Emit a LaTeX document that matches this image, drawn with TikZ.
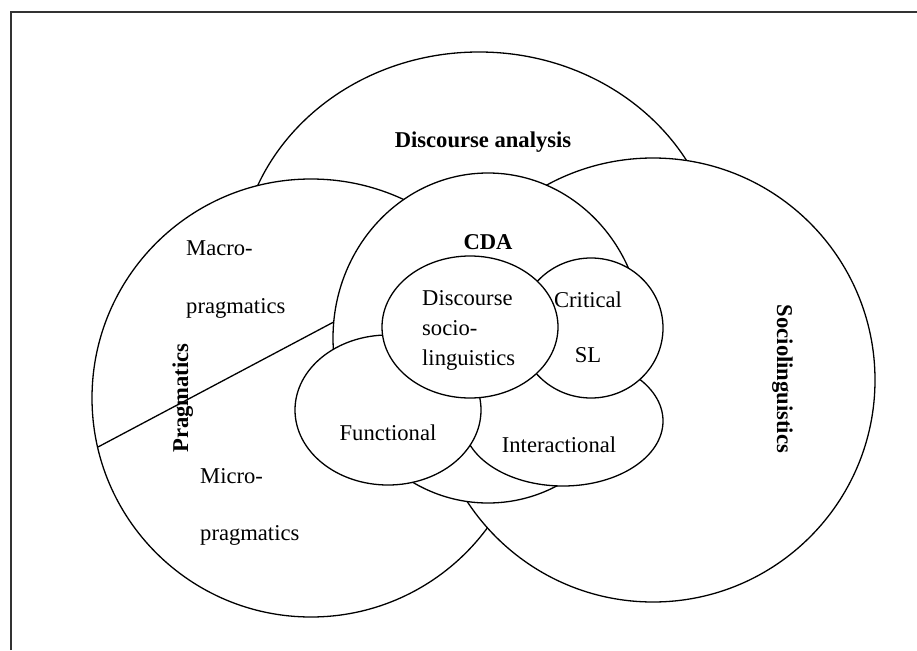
\documentclass[tikz,border=0pt]{standalone}
\usepackage{fontspec}
\setmainfont{Liberation Serif}
\begin{document}
\begin{tikzpicture}[x=1pt,y=-1pt,
  region/.style={draw=black, line width=1.3pt, fill=white},
  divider/.style={draw=black, line width=1.3pt},
  frameline/.style={draw=black!80, line width=1.6pt},
  lbl/.style={font=\fontsize{22.6}{27}\selectfont, inner sep=0pt, anchor=base},
  blbl/.style={lbl, font=\fontsize{22.6}{27}\selectfont\bfseries},
  lbll/.style={lbl, anchor=base west}]
\useasboundingbox (0,0) rectangle (917,650);
\draw[frameline] (11,650) -- (11,12) -- (917,12);
% Discourse analysis
\path[region] (479,270) ellipse [x radius=240pt, y radius=218pt];
% Pragmatics
\path[region] (311,398) circle [radius=219pt];
\draw[divider] (98,447) -- (345,316);
% Sociolinguistics
\path[region] (653,380) circle [radius=222pt];
% CDA
\path[region] (488,338) ellipse [x radius=155pt, y radius=165pt];
% Interactional
\path[region] (563,421) ellipse [x radius=100pt, y radius=65pt];
% Critical SL
\path[region] (591,328) ellipse [x radius=72pt, y radius=70pt];
% Functional
\path[region] (388,410) ellipse [x radius=93pt, y radius=75pt];
% Discourse sociolinguistics
\path[region] (470,327) ellipse [x radius=88pt, y radius=71pt];
% labels
\node[blbl] (da) at (483,147) {Discourse analysis};
\node[blbl] (cda) at (488,249) {CDA};
\node[blbl, rotate=90] (prag) at (188,398) {Pragmatics};
\node[blbl, rotate=-90] (socio) at (777,379) {Sociolinguistics};
\node[lbll] (macro1) at (186,255) {Macro-};
\node[lbll] (macro2) at (186,313) {pragmatics};
\node[lbll] (micro1) at (200,483) {Micro-};
\node[lbll] (micro2) at (200,540) {pragmatics};
\node[lbll] (ds1) at (422,305) {Discourse};
\node[lbll] (ds2) at (422,335) {socio-};
\node[lbll] (ds3) at (422,365) {linguistics};
\node[lbl] (crit1) at (588,307) {Critical};
\node[lbl] (crit2) at (588,362) {SL};
\node[lbl] (func) at (388,440) {Functional};
\node[lbl] (inter) at (559,452) {Interactional};
\end{tikzpicture}
\end{document}
